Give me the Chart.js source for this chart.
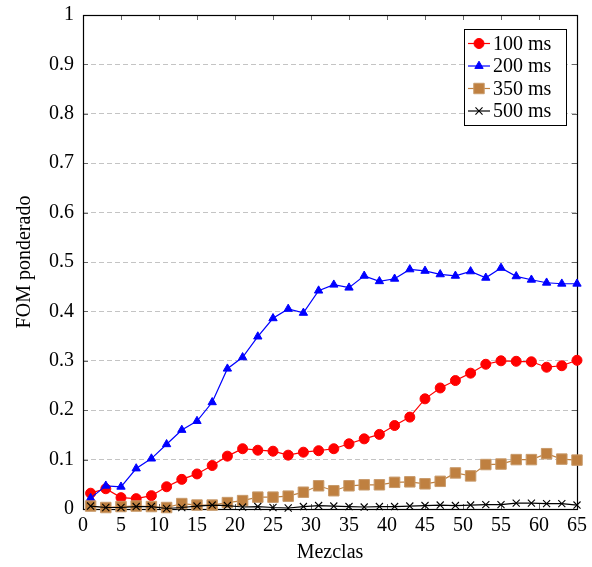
<!DOCTYPE html>
<html>
<head>
<meta charset="utf-8">
<script src="https://cdn.jsdelivr.net/npm/chart.js@4/dist/chart.umd.min.js"></script>
<style>
  html, body { margin: 0; padding: 0; background: #fff; }
  #wrap { width: 592px; height: 567px; }
</style>
</head>
<body>
<div id="wrap"><canvas id="c" width="592" height="567"></canvas></div>
<script>
// Number of mixes (x axis)
const mixes = [1,3,5,7,9,11,13,15,17,19,21,23,25,27,29,31,33,35,37,39,41,43,45,47,49,51,53,55,57,59,61,63,65];

// Weighted FOM per window length
const fom100 = [0.032,0.041,0.023,0.021,0.027,0.045,0.060,0.071,0.088,0.107,0.122,0.119,0.117,0.109,0.115,0.118,0.122,0.132,0.142,0.151,0.169,0.186,0.223,0.245,0.260,0.275,0.293,0.300,0.299,0.298,0.287,0.290,0.301];
const fom200 = [0.022,0.047,0.045,0.082,0.102,0.131,0.160,0.178,0.216,0.284,0.307,0.349,0.386,0.405,0.397,0.442,0.454,0.448,0.472,0.461,0.466,0.485,0.482,0.475,0.472,0.481,0.468,0.488,0.471,0.464,0.458,0.456,0.456];
const fom350 = [0.006,0.003,0.005,0.006,0.005,0.003,0.011,0.008,0.008,0.013,0.017,0.024,0.024,0.026,0.034,0.047,0.037,0.047,0.049,0.049,0.054,0.055,0.051,0.056,0.073,0.067,0.090,0.091,0.100,0.100,0.112,0.101,0.099];
const fom500 = [0.006,0.003,0.003,0.005,0.005,0.001,0.003,0.006,0.008,0.007,0.004,0.005,0.003,0.002,0.005,0.007,0.006,0.005,0.004,0.005,0.005,0.006,0.007,0.008,0.007,0.008,0.009,0.009,0.012,0.012,0.011,0.011,0.008];

const seriesLabels = ['100 ms', '200 ms', '350 ms', '500 ms'];
const xTitle = 'Mezclas';
const yTitle = 'FOM ponderado';

const FONT = "'Liberation Serif', 'Times New Roman', serif";

const toPoints = ys => ys.map((y, i) => ({ x: mixes[i], y }));

const styles = [
  { color: '#ff0000', fill: '#ff0000', pointStyle: 'circle',   radius: 5,   borderWidth: 1 },
  { color: '#0000ff', fill: '#0000ff', pointStyle: 'triangle', radius: 4.8, borderWidth: 1 },
  { color: '#c89a6a', fill: '#bf8040', pointStyle: 'rect',     radius: 7.4, borderWidth: 1, line: '#bf8040' },
  { color: '#000000', fill: '#000000', pointStyle: 'crossRot', radius: 5,   borderWidth: 1.1 }
];

const values = [fom100, fom200, fom350, fom500];

const datasets = values.map((ys, i) => {
  const s = styles[i];
  return {
    label: seriesLabels[i],
    data: toPoints(ys),
    borderColor: s.line || s.color,
    backgroundColor: s.fill,
    borderWidth: 1.2,
    pointStyle: s.pointStyle,
    pointRadius: s.radius,
    pointBackgroundColor: s.fill,
    pointBorderColor: s.color,
    pointBorderWidth: s.borderWidth,
    tension: 0,
    clip: false,
    order: 4 - i
  };
});

// Frame plus inward tick marks on all four sides
const framePlugin = {
  id: 'frame',
  beforeDatasetsDraw(chart) {
    const { ctx, chartArea: a, scales } = chart;
    ctx.save();
    ctx.strokeStyle = '#666';
    ctx.lineWidth = 1;
    const len = 5;
    scales.x.ticks.forEach(t => {
      const px = Math.round(scales.x.getPixelForValue(t.value)) + 0.5;
      ctx.beginPath();
      ctx.moveTo(px, a.bottom); ctx.lineTo(px, a.bottom - len);
      ctx.moveTo(px, a.top); ctx.lineTo(px, a.top + len);
      ctx.stroke();
    });
    scales.y.ticks.forEach(t => {
      const py = Math.round(scales.y.getPixelForValue(t.value)) + 0.5;
      ctx.beginPath();
      ctx.moveTo(a.left, py); ctx.lineTo(a.left + len, py);
      ctx.moveTo(a.right, py); ctx.lineTo(a.right - len, py);
      ctx.stroke();
    });
    ctx.strokeStyle = '#000';
    ctx.lineWidth = 1.2;
    ctx.strokeRect(Math.round(a.left) + 0.5, Math.round(a.top) + 0.5,
                   Math.round(a.right - a.left), Math.round(a.bottom - a.top));
    ctx.restore();
  }
};

// Boxed legend in the upper right corner of the plot
const legendPlugin = {
  id: 'boxLegend',
  afterDatasetsDraw(chart) {
    const { ctx } = chart;
    const box = { x: 464.5, y: 29.5, w: 102, h: 96 };
    ctx.save();
    ctx.fillStyle = '#fff';
    ctx.fillRect(box.x, box.y, box.w, box.h);
    ctx.strokeStyle = '#000';
    ctx.lineWidth = 1;
    ctx.strokeRect(box.x, box.y, box.w, box.h);
    const rows = [43.5, 66, 88.5, 111];
    chart.data.datasets.forEach((ds, i) => {
      const y = rows[i];
      ctx.strokeStyle = ds.borderColor;
      ctx.lineWidth = 1.2;
      ctx.beginPath();
      ctx.moveTo(468, y); ctx.lineTo(490, y);
      ctx.stroke();
      ctx.fillStyle = ds.pointBackgroundColor;
      ctx.strokeStyle = ds.pointBorderColor;
      ctx.lineWidth = ds.pointBorderWidth;
      Chart.helpers.drawPoint(ctx, {
        pointStyle: ds.pointStyle,
        radius: ds.pointRadius,
        rotation: 0,
        borderWidth: ds.pointBorderWidth
      }, 479, y);
      ctx.fillStyle = '#000';
      ctx.font = '20px ' + FONT;
      ctx.textAlign = 'left';
      ctx.textBaseline = 'middle';
      ctx.fillText(ds.label, 493, y + 1);
    });
    ctx.restore();
  }
};

new Chart(document.getElementById('c'), {
  type: 'line',
  data: { datasets },
  options: {
    responsive: false,
    animation: false,
    devicePixelRatio: 1,
    layout: { padding: { top: 15, right: 15, left: 0, bottom: 0 } },
    plugins: {
      legend: { display: false },
      tooltip: { enabled: false }
    },
    scales: {
      x: {
        type: 'linear',
        min: 0,
        max: 65,
        afterFit(scale) {
          scale.height = 58;
          scale.paddingLeft = 0;
          scale.paddingRight = 0;
        },
        ticks: {
          stepSize: 5,
          color: '#000',
          padding: 5,
          maxRotation: 0,
          autoSkip: false,
          font: { family: FONT, size: 20 }
        },
        grid: { display: false, drawTicks: false },
        border: { display: false },
        title: {
          display: true,
          text: xTitle,
          color: '#000',
          font: { family: FONT, size: 20 },
          padding: { top: 0, bottom: 2 }
        }
      },
      y: {
        min: 0,
        max: 1,
        afterFit(scale) {
          scale.width = 83;
          scale.paddingTop = 0;
          scale.paddingBottom = 0;
        },
        ticks: {
          stepSize: 0.1,
          color: '#000',
          padding: 9,
          autoSkip: false,
          font: { family: FONT, size: 20 },
          callback: v => (v === 0 || v === 1) ? String(v) : v.toFixed(1)
        },
        grid: {
          drawTicks: false,
          color: ctx => (ctx.tick && (ctx.tick.value === 0 || ctx.tick.value === 1)) ? 'rgba(0,0,0,0)' : '#c4c4c4',
          lineWidth: 1,
          borderDash: [5, 3]
        },
        border: { display: false, dash: [5, 3] },
        title: {
          display: true,
          text: yTitle,
          color: '#000',
          font: { family: FONT, size: 20 },
          padding: { top: 13, bottom: 0 }
        }
      }
    }
  },
  plugins: [framePlugin, legendPlugin]
});
</script>
</body>
</html>
